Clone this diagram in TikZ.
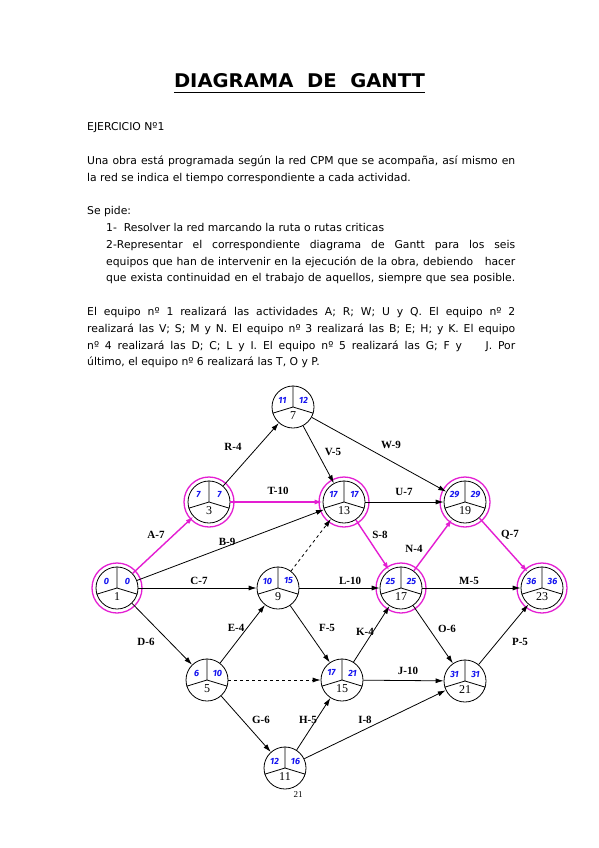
\documentclass[tikz,border=0pt]{standalone}
\usepackage{fontspec}
\usepackage{graphicx}
\setmainfont{DejaVu Sans}
\newfontfamily\tnr{Liberation Serif}
\newfontfamily\hand{Fira Sans}
\usetikzlibrary{arrows.meta}
\definecolor{crit}{RGB}{228,30,210}
\definecolor{hblue}{RGB}{20,20,240}
\newsavebox\jlbox
\newcommand\jl[2]{\sbox\jlbox{#2}\ifdim\wd\jlbox>#1\relax\resizebox{#1}{\ht\jlbox}{\usebox\jlbox}\else\makebox[#1][s]{#2}\fi}
\newcommand\cpmnode[6]{%
  \node[cpm] (#1) at (#2,#3) {};
  \draw[line width=0.8pt] (#1.north) -- (#1.center) -- (#1.197) (#1.center) -- (#1.343);
  \node[bnum] (#1a) at ([xshift=-10.5pt,yshift=7pt]#1.center) {#5};
  \node[bnum] (#1b) at ([xshift=10.5pt,yshift=7pt]#1.center) {#6};
  \node[knum] (#1n) at ([yshift=-9pt]#1.center) {#4};
}
\begin{document}
\begin{tikzpicture}[x=1pt,y=-1pt,
  txt/.style={anchor=base west, inner sep=0pt, font=\fontsize{10.8}{12}\selectfont},
  cpm/.style={circle, draw, line width=0.8pt, minimum size=42pt, inner sep=0pt},
  ring/.style={circle, draw=crit, line width=1.3pt, minimum size=50pt, inner sep=0pt},
  bnum/.style={text=hblue, font=\hand\bfseries\itshape\fontsize{9}{9}\selectfont, inner sep=0pt},
  knum/.style={font=\tnr\fontsize{12}{12}\selectfont, inner sep=0pt},
  lbl/.style={font=\tnr\bfseries\fontsize{11}{11}\selectfont, inner sep=0pt},
  arr/.style={-{Latex[length=8pt,width=5pt]}, line width=0.8pt},
  carr/.style={arr, draw=crit, line width=1.4pt},
  darr/.style={arr, dashed},
]
\useasboundingbox[fill=white] (0,0) rectangle (599,848);

% ---- text ----
\node[anchor=base, inner sep=0pt] (title) at (299.5,88) {\resizebox{251pt}{14pt}{\bfseries DIAGRAMA\ \ DE\ \ GANTT}};
\draw[line width=1.6pt] (title.south west) ++(0,4) coordinate (ulA) -- ++(251,0) coordinate (ulB);

\node[txt] (t1) at (87,131) {EJERCICIO Nº1};
\node[txt] (t2) at (87,164) {\jl{428pt}{Una obra está programada según la red CPM que se acompaña, así mismo en}};
\node[txt] (t3) at (87,181) {la red se indica el tiempo correspondiente a cada actividad.};
\node[txt] (t4) at (87,214) {Se pide:};
\node[txt] (t5) at (106,231) {1-\ \ Resolver la red marcando la ruta o rutas criticas};
\node[txt] (t6) at (106,248) {\jl{409pt}{2-Representar el correspondiente diagrama de Gantt para los seis}};
\node[txt] (t7) at (106,265) {\jl{409pt}{equipos que han de intervenir en la ejecución de la obra, debiendo\ \ \ hacer}};
\node[txt] (t8) at (106,281) {\jl{409pt}{que exista continuidad en el trabajo de aquellos, siempre que sea posible.}};
\node[txt] (t9) at (87,315) {\jl{428pt}{El equipo nº 1 realizará las actividades A; R; W; U y Q. El equipo nº 2}};
\node[txt] (t10) at (87,332) {\jl{428pt}{realizará las V; S; M y N. El equipo nº 3 realizará las B; E; H; y K. El equipo}};
\node[txt] (t11) at (87,349) {\jl{428pt}{nº 4 realizará las D; C; L y I. El equipo nº 5 realizará las G; F y\ \ \ \ J. Por}};
\node[txt] (t12) at (87,365) {último, el equipo nº 6 realizará las T, O y P.};

% ---- critical rings ----
\foreach \nm/\xx/\yy in {1/117/588, 3/209/502, 13/344/502, 19/465/502, 17/401/588, 23/542/588}
  \node[ring] (r\nm) at (\xx,\yy) {};

% ---- nodes ----
\cpmnode{n1}{117}{588}{1}{0}{0}
\cpmnode{n3}{209}{502}{3}{7}{7}
\cpmnode{n7}{293}{407}{7}{11}{12}
\cpmnode{n13}{344}{502}{13}{17}{17}
\cpmnode{n19}{465}{502}{19}{29}{29}
\cpmnode{n9}{278}{588}{9}{10}{15}
\cpmnode{n17}{401}{588}{17}{25}{25}
\cpmnode{n23}{542}{588}{23}{36}{36}
\cpmnode{n5}{207}{680}{5}{6}{10}
\cpmnode{n15}{342}{680}{15}{17}{21}
\cpmnode{n21}{465}{681}{21}{31}{31}
\cpmnode{n11}{285}{768}{11}{12}{16}

% ---- connectors ----
\draw[carr] (n1) -- (n3);
\draw[arr] (n3) -- (n7);
\draw[arr] (n7) -- (n13);
\draw[arr] (n7) -- (n19);
\draw[carr] (n3) -- (n13);
\draw[arr] (n1) -- (n13);
\draw[darr] (n9) -- (n13);
\draw[arr] (n13) -- (n19);
\draw[carr] (n13) -- (n17);
\draw[carr] (n17) -- (n19);
\draw[carr] (n19) -- (n23);
\draw[arr] (n1) -- (n9);
\draw[arr] (n9) -- (n17);
\draw[arr] (n17) -- (n23);
\draw[arr] (n1) -- (n5);
\draw[arr] (n5) -- (n9);
\draw[arr] (n9) -- (n15);
\draw[darr] (n5) -- (n15);
\draw[arr] (n15) -- (n17);
\draw[arr] (n17) -- (n21);
\draw[arr] (n15) -- (n21);
\draw[arr] (n21) -- (n23);
\draw[arr] (n5) -- (n11);
\draw[arr] (n11) -- (n15);
\draw[arr] (n11) -- (n21);

% ---- labels ----
\node[lbl] (lA) at (156,535) {A-7};
\node[lbl] (lR) at (233,447) {R-4};
\node[lbl] (lV) at (333,452) {V-5};
\node[lbl] (lW) at (391,445) {W-9};
\node[lbl] (lT) at (278,491) {T-10};
\node[lbl] (lU) at (404,492) {U-7};
\node[lbl] (lB) at (227,542) {B-9};
\node[lbl] (lS) at (380,535) {S-8};
\node[lbl] (lN) at (414,549) {N-4};
\node[lbl] (lQ) at (510,535) {Q-7};
\node[lbl] (lC) at (199,581) {C-7};
\node[lbl] (lL) at (350,581) {L-10};
\node[lbl] (lM) at (469,581) {M-5};
\node[lbl] (lD) at (146,642) {D-6};
\node[lbl] (lE) at (236,628) {E-4};
\node[lbl] (lF) at (327,628) {F-5};
\node[lbl] (lK) at (365,632) {K-4};
\node[lbl] (lO) at (447,629) {O-6};
\node[lbl] (lP) at (520,642) {P-5};
\node[lbl] (lJ) at (408,671) {J-10};
\node[lbl] (lG) at (261,720) {G-6};
\node[lbl] (lH) at (308,720) {H-5};
\node[lbl] (lI) at (365,720) {I-8};
\node[font=\tnr\fontsize{9}{9}\selectfont, inner sep=0pt] (pg) at (298,795) {21};
\end{tikzpicture}
\end{document}
